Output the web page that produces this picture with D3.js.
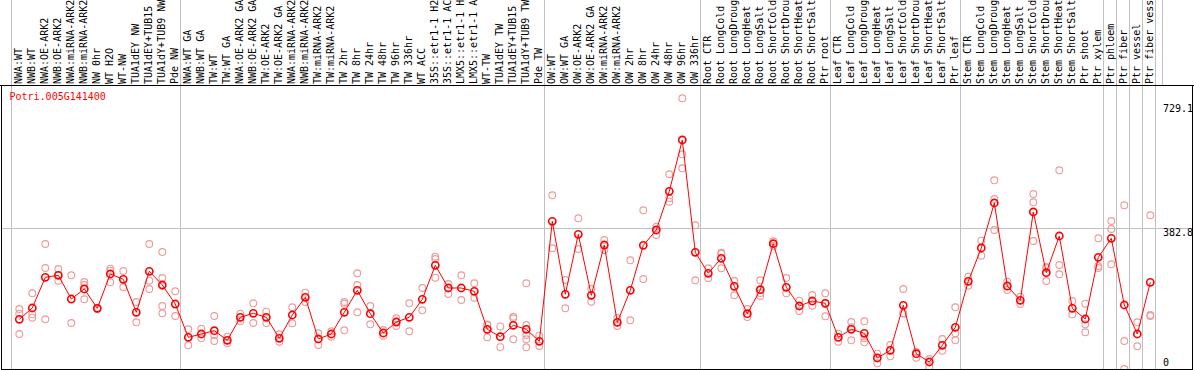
<!DOCTYPE html>
<html>
<head>
<meta charset="utf-8">
<script src="https://cdn.jsdelivr.net/npm/d3@7"></script>
<style>
body { margin: 0; background: #fff; }
#chart { width: 1194px; height: 370px; }
text { font-family: "DejaVu Sans Mono", monospace; font-size: 10px; }
</style>
</head>
<body>
<div id="chart"></div>
<script>
var geneId = "Potri.005G141400";

// names as the header shows them (long ones run out of the top)
var samples = ["NWA:WT", "NWB:WT", "NWA:OE-ARK2", "NWB:OE-ARK2", "NWA:miRNA-ARK2", "NWB:miRNA-ARK2",
    "NW 0hr", "WT H2O", "WT-NW", "TUA1dEY NW", "TUA1dEY+TUB15", "TUA1dY+TUB9 NW", "Pde NW",
    "NWA:WT GA", "NWB:WT GA", "TW:WT", "TW:WT GA", "NWA:OE-ARK2 GA", "NWB:OE-ARK2 GA", "TW:OE-ARK2",
    "TW:OE-ARK2 GA", "NWA:miRNA-ARK2", "NWB:miRNA-ARK2", "TW:miRNA-ARK2", "TW:miRNA-ARK2",
    "TW 2hr", "TW 8hr", "TW 24hr", "TW 48hr", "TW 96hr", "TW 336hr", "WT ACC",
    "35S::etr1-1 H2", "35S::etr1-1 AC", "LMX5::etr1-1 H", "LMX5::etr1-1 A", "WT-TW",
    "TUA1dEY TW", "TUA1dEY+TUB15", "TUA1dY+TUB9 TW", "Pde TW",
    "OW:WT", "OW:WT GA", "OW:OE-ARK2", "OW:OE-ARK2 GA", "OW:miRNA-ARK2", "OW:miRNA-ARK2",
    "OW 2hr", "OW 8hr", "OW 24hr", "OW 48hr", "OW 96hr", "OW 336hr",
    "Root CTR", "Root LongCold", "Root LongDroug", "Root LongHeat", "Root LongSalt",
    "Root ShortCold", "Root ShortDrou", "Root ShortHeat", "Root ShortSalt", "Ptr root",
    "Leaf CTR", "Leaf LongCold", "Leaf LongDroug", "Leaf LongHeat", "Leaf LongSalt",
    "Leaf ShortCold", "Leaf ShortDrou", "Leaf ShortHeat", "Leaf ShortSalt", "Ptr leaf",
    "Stem CTR", "Stem LongCold", "Stem LongDroug", "Stem LongHeat", "Stem LongSalt",
    "Stem ShortCold", "Stem ShortDrou", "Stem ShortHeat", "Stem ShortSalt", "Ptr shoot",
    "Ptr xylem", "Ptr phloem", "Ptr fiber", "Ptr vessel", "Ptr fiber vess"];

var meanValues = [141.0, 171.1, 252.8, 258.1, 195.0, 221.7, 170.3, 261.6, 247.5, 159.7, 268.8, 232.3, 181.7,
    93.1, 101.9, 110.7, 85.2, 146.4, 157.0, 146.4, 90.5, 152.5, 199.6, 88.6, 101.9,
    159.7, 218.2, 155.9, 104.6, 133.8, 146.4, 194.3, 284.7, 224.3, 224.3, 215.5, 114.4,
    94.7, 125.1, 114.4, 82.5,
    401.8, 207.6, 367.2, 204.9, 338.7, 133.1, 218.2, 337.9, 378.7, 481.6, 618.2, 319.3,
    263.4, 303.4, 228.8, 155.9, 219.8, 342.2, 226.2, 176.4, 189.7, 183.6,
    93.1, 114.4, 103.8, 38.1, 58.5, 178.3, 49.5, 27.4, 71.8, 119.7,
    242.2, 330.8, 450.5, 229.6, 191.6, 426.6, 265.0, 362.7, 170.3, 141.8,
    306.0, 356.6, 179.1, 101.9, 239.5];

var replicates = [
    [168.4, 155.9, 101.9], [210.2, 154.3, 145.3], [341.4, 277.5, 141.0], [274.9, 258.9, 243.7],
    [258.1, 131.2], [240.3, 232.3, 194.3], [171.9, 168.4], [275.7, 270.4, 239.5],
    [269.6, 226.2], [187.1, 133.1], [341.4, 243.7, 221.7], [320.1, 250.9, 229.5, 176.4, 157.0],
    [215.5, 149.8],
    [114.4, 71.8], [116.0, 90.5], [149.8, 99.0, 83.3], [94.7, 77.2], [155.9, 135.7],
    [183.6, 131.2], [161.3, 131.2], [101.1, 81.4], [173.0, 130.4], [211.8, 187.1],
    [103.8, 72.6], [109.1, 94.7],
    [187.1, 182.5, 111.8], [263.4, 232.3, 159.7], [176.4, 127.7], [112.6, 97.4],
    [143.7, 134.6, 123.2], [183.6, 109.1], [224.3, 165.0], [307.6, 301.5, 251.7],
    [235.0, 208.4], [258.1, 192.4], [236.8, 198.5], [127.0, 125.9, 93.1],
    [122.0, 67.0], [148.0, 143.7, 87.8], [236.8, 125.9, 99.3, 87.8, 66.5], [97.4, 70.0],
    [471.0, 330.0], [245.6, 170.3], [409.8, 328.1], [221.7, 187.9], [352.0, 325.6],
    [144.5, 123.2], [298.0, 138.4], [431.1, 248.3], [387.4, 365.3], [526.9, 463.0, 454.0],
    [729.1, 580.1, 542.8], [391.2, 244.8],
    [276.7, 250.1], [318.0, 315.6, 276.7], [242.9, 204.9], [168.4, 147.2], [244.8, 211.0, 203.0],
    [348.6, 336.1], [250.9, 210.2], [190.5, 163.1], [205.7, 177.2], [210.2, 184.4, 149.0],
    [102.7, 81.4], [133.8, 120.0, 85.2], [135.7, 91.3, 79.8], [49.5, 23.9], [72.6, 42.6],
    [221.7, 157.0, 156.0], [54.0, 38.9], [35.4, 14.1], [88.6, 57.5], [173.0, 103.8, 85.2],
    [254.4, 230.4], [350.2, 310.3], [510.9, 461.1, 378.7], [241.1, 219.0], [201.2, 181.7],
    [474.5, 452.4, 349.4], [280.0, 277.5, 242.9], [537.5, 285.5, 260.8], [189.7, 154.3],
    [182.5, 127.7, 106.4],
    [356.6, 282.9, 277.5], [402.6, 381.3, 287.4], [444.4, 83.3, 8.8], [133.1, 69.2],
    [417.8, 152.5, 149.8]];

var yTicks = [0, 382.8, 729.1];
var midLine = 382.8;

// first sample of every block gets a divider
var blockStarts = [0, 13, 41, 53, 63, 73, 84, 85, 86, 87];

var width = 1194,
    height = 370,
    plotTop = 85,
    plotBottom = 369;

var svg = d3.select("#chart").append("svg")
    .attr("width", width)
    .attr("height", height);

var x = d3.scaleBand().domain(d3.range(samples.length)).range([11, 1155]).padding(0),
    y = d3.scaleLinear().domain([0, 729.1]).range([372.3, 98.3]);

function px(i) { return x(i) + 8.3; }

svg.append("defs").append("clipPath")
    .attr("id", "plot-clip")
    .append("rect")
    .attr("x", 1)
    .attr("y", plotTop)
    .attr("width", 1192)
    .attr("height", plotBottom - plotTop);

// gray dividers run through the label area too
var dividers = blockStarts.map(function (i) { return x(i); });
dividers.push(x(samples.length - 1) + x.bandwidth());

svg.selectAll(".divider")
    .data(dividers)
    .enter().append("line")
    .attr("class", "divider")
    .attr("x1", function (d) { return Math.round(d) + 0.5; })
    .attr("x2", function (d) { return Math.round(d) + 0.5; })
    .attr("y1", 0)
    .attr("y2", plotBottom)
    .attr("stroke", "#c0c0c0")
    .attr("stroke-width", 1);

svg.append("line")
    .attr("x1", 1162.5).attr("x2", 1162.5)
    .attr("y1", 0).attr("y2", plotTop)
    .attr("stroke", "#c0c0c0");

svg.append("line")
    .attr("x1", 1)
    .attr("x2", 1193)
    .attr("y1", Math.round(y(midLine)) + 0.5)
    .attr("y2", Math.round(y(midLine)) + 0.5)
    .attr("stroke", "#c0c0c0");

// sample names, rotated
svg.selectAll(".sample")
    .data(samples)
    .enter().append("text")
    .attr("class", "sample")
    .attr("transform", function (d, i) {
        return "translate(" + (x(i) + 10.8) + "," + 84 + ")rotate(-90)";
    })
    .attr("fill", "#000")
    .text(function (d) { return d; });

svg.append("line")
    .attr("x1", 0).attr("x2", width)
    .attr("y1", plotTop + 0.5).attr("y2", plotTop + 0.5)
    .attr("stroke", "#000");

svg.append("rect")
    .attr("x", 1.5)
    .attr("y", plotTop + 0.5)
    .attr("width", 1191)
    .attr("height", plotBottom - plotTop)
    .attr("fill", "none")
    .attr("stroke", "#000");

var plot = svg.append("g").attr("clip-path", "url(#plot-clip)");

var repPoints = [];
replicates.forEach(function (reps, i) {
    reps.forEach(function (v) { repPoints.push({i: i, v: v}); });
});

plot.selectAll(".rep")
    .data(repPoints)
    .enter().append("circle")
    .attr("class", "rep")
    .attr("cx", function (d) { return px(d.i); })
    .attr("cy", function (d) { return y(d.v); })
    .attr("r", 3.4)
    .attr("fill", "none")
    .attr("stroke", "#ee9a9a")
    .attr("stroke-width", 1.1);

var line = d3.line()
    .x(function (d, i) { return px(i); })
    .y(function (d) { return y(d); });

plot.append("path")
    .datum(meanValues)
    .attr("d", line)
    .attr("fill", "none")
    .attr("stroke", "#ff0000")
    .attr("stroke-width", 1);

plot.selectAll(".mean")
    .data(meanValues)
    .enter().append("circle")
    .attr("class", "mean")
    .attr("cx", function (d, i) { return px(i); })
    .attr("cy", function (d) { return y(d); })
    .attr("r", 3.6)
    .attr("fill", "none")
    .attr("stroke", "#ff0000")
    .attr("stroke-width", 1.6);

svg.append("text")
    .attr("x", 9.5)
    .attr("y", 100)
    .attr("fill", "#ff0000")
    .text(geneId);

svg.selectAll(".ytick")
    .data(yTicks)
    .enter().append("text")
    .attr("class", "ytick")
    .attr("x", 1163)
    .attr("y", function (d) { return Math.max(112, Math.min(365.5, y(d) + 7.5)); })
    .attr("fill", "#000")
    .text(function (d) { return d; });
</script>
</body>
</html>
